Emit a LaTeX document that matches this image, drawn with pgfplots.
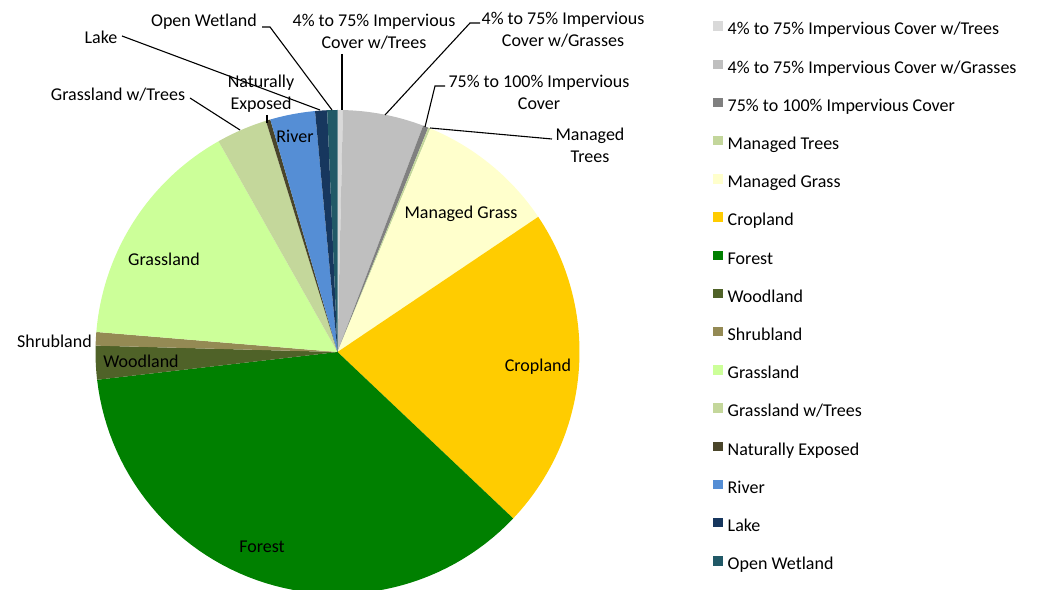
\documentclass[border=0pt]{standalone}
\usepackage{fontspec}
\setmainfont{Carlito}
\usepackage{pgfplots}
\pgfplotsset{compat=1.18}
\definecolor{cTrees}{HTML}{D9D9D9}
\definecolor{cGrasses}{HTML}{BFBFBF}
\definecolor{cImp}{HTML}{808080}
\definecolor{cManTrees}{HTML}{C3D69B}
\definecolor{cManGrass}{HTML}{FFFFCC}
\definecolor{cCrop}{HTML}{FFCC00}
\definecolor{cForest}{HTML}{008000}
\definecolor{cWood}{HTML}{4F6228}
\definecolor{cShrub}{HTML}{948A54}
\definecolor{cGrass}{HTML}{CCFF99}
\definecolor{cGwT}{HTML}{C4D79B}
\definecolor{cNat}{HTML}{4A452A}
\definecolor{cRiver}{HTML}{558ED5}
\definecolor{cLake}{HTML}{17375E}
\definecolor{cWet}{HTML}{215967}
% shares in percent (cumulative start / end), clockwise from 12 o'clock
\newcommand{\slice}[3]{%
  \addplot[fill=#3, draw=none, domain=#1:#2, samples=60, variable=\t]
    ({337.5+242*sin(3.6*\t)}, {237+242*cos(3.6*\t)}) -- (axis cs:337.5,237) -- cycle;
}
\begin{document}
\begin{tikzpicture}
\begin{axis}[
  width=1048bp, height=589bp, scale only axis,
  xmin=0, xmax=1048, ymin=0, ymax=589,
  axis lines=none, clip=false,
  font=\fontsize{18bp}{22bp}\selectfont,
  legend cell align=left,
  legend image code/.code={\fill[#1] (0bp,-0.5bp) rectangle (9.5bp,9bp);},
  legend style={at={(axis cs:710,569.8)}, anchor=north west, draw=none, fill=none,
    font=\fontsize{18bp}{22bp}\selectfont, row sep=20.7bp,
    nodes={inner sep=0pt, text height=13bp, text depth=4bp},
    /tikz/every odd column/.style={column sep=5bp}},
]
\coordinate (BL) at (axis cs:0,0);
\coordinate (TR) at (axis cs:1048,589);
\slice{0}{0.36}{cTrees}
\addlegendentry{4\% to 75\% Impervious Cover w/Trees}
\slice{0.36}{5.76}{cGrasses}
\addlegendentry{4\% to 75\% Impervious Cover w/Grasses}
\slice{5.76}{6.12}{cImp}
\addlegendentry{75\% to 100\% Impervious Cover}
\slice{6.12}{6.27}{cManTrees}
\addlegendentry{Managed Trees}
\slice{6.27}{15.57}{cManGrass}
\addlegendentry{Managed Grass}
\slice{15.57}{37.07}{cCrop}
\addlegendentry{Cropland}
\slice{37.07}{73.17}{cForest}
\addlegendentry{Forest}
\slice{73.17}{75.42}{cWood}
\addlegendentry{Woodland}
\slice{75.42}{76.32}{cShrub}
\addlegendentry{Shrubland}
\slice{76.32}{91.82}{cGrass}
\addlegendentry{Grassland}
\slice{91.82}{95.22}{cGwT}
\addlegendentry{Grassland w/Trees}
\slice{95.22}{95.52}{cNat}
\addlegendentry{Naturally Exposed}
\slice{95.52}{98.52}{cRiver}
\addlegendentry{River}
\slice{98.52}{99.32}{cLake}
\addlegendentry{Lake}
\slice{99.32}{100}{cWet}
\addlegendentry{Open Wetland}

% leader lines
\draw[line width=1.1bp] (axis cs:190,491) -- (axis cs:240,459);
\draw[line width=1.1bp] (axis cs:267,474) -- (axis cs:267,466);
\draw[line width=1.1bp] (axis cs:122,553) -- (axis cs:320,479);
\draw[line width=1.1bp] (axis cs:262,562) -- (axis cs:270,562) -- (axis cs:332,479);
\draw[line width=1.1bp] (axis cs:342,535) -- (axis cs:342,479);
\draw[line width=1.1bp] (axis cs:480,566) -- (axis cs:470,566) -- (axis cs:385,474);
\draw[line width=1.1bp] (axis cs:445,503) -- (axis cs:435,503) -- (axis cs:425,462);
\draw[line width=1.1bp] (axis cs:552,450) -- (axis cs:430,461);

% labels
\node at (axis cs:461,375) {Managed Grass};
\node at (axis cs:538,222) {Cropland};
\node at (axis cs:262,42) {Forest};
\node at (axis cs:141,228) {Woodland};
\node at (axis cs:164,330) {Grassland};
\node at (axis cs:295,453) {River};
\node[anchor=east, inner sep=0pt] at (axis cs:92,248) {Shrubland};
\node at (axis cs:118,494) {Grassland w/Trees};
\node[align=center] at (axis cs:261,495) {Naturally\\Exposed};
\node at (axis cs:101,552) {Lake};
\node at (axis cs:204,567) {Open Wetland};
\node[align=center] at (axis cs:374,557) {4\% to 75\% Impervious\\Cover w/Trees};
\node[align=center] at (axis cs:563,559) {4\% to 75\% Impervious\\Cover w/Grasses};
\node[align=center] at (axis cs:539,497) {75\% to 100\% Impervious\\Cover};
\node[align=center] at (axis cs:590,444) {Managed\\Trees};
\end{axis}
\pgfresetboundingbox
\path[use as bounding box] (BL) rectangle (TR);
\end{tikzpicture}
\end{document}
